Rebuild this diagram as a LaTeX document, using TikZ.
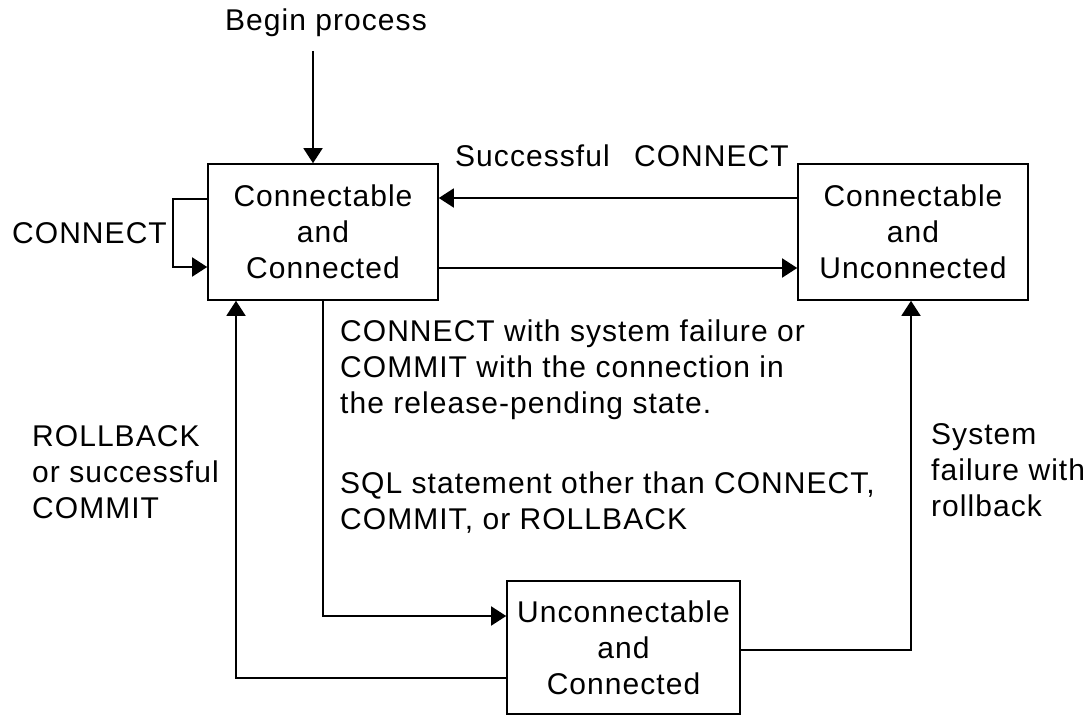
\documentclass[tikz,border=0pt]{standalone}
\usepackage{fontspec}
\setmainfont{Liberation Sans}[LetterSpace=3.5]
\usetikzlibrary{arrows.meta}
\begin{document}
\begin{tikzpicture}[x=1pt,y=-1pt,
  every node/.style={font=\fontsize{30}{36}\selectfont, inner sep=0pt},
  state/.style={draw, line width=1.6pt, align=center, minimum width=230pt, minimum height=136pt},
  label/.style={align=left, anchor=west},
  arr/.style={line width=1.6pt, -{Triangle[length=15pt,width=19pt]}},
  line/.style={line width=1.6pt}]
\useasboundingbox (0,0) rectangle (1092,717);

% states
\node[state] (A) at (323,232) {Connectable\\and\\Connected};
\node[state] (B) at (913,232) {Connectable\\and\\Unconnected};
\node[state, minimum width=233pt, minimum height=133pt] (C) at (623.5,647.5) {Unconnectable\\and\\Connected};

% start
\node (bp) at (326,23) {Begin process};
\coordinate (bpend) at (313,51);
\draw[arr] (bpend) -- (A.north -| bpend);

% transitions between the two top states
\draw[arr] (B.west |- 0,198) -- (A.east |- 0,198);
\draw[arr] (A.east |- 0,268) -- (B.west |- 0,268);
\node[label] (succ) at (455,156) {Successful\hspace{0.5em} CONNECT};

% self loop on A
\draw[arr] (A.west |- 0,199) -- (173,199) -- (173,267) -- (A.west |- 0,267);
\node[label] (cn) at (12,233) {CONNECT};

% A to C
\draw[arr] (A.south) |- (C.west |- 0,616);
\node[label] (t1) at (340,370) {CONNECT with system failure or\\COMMIT with the connection in\\the release-pending state.};
\node[label] (t2) at (340,503) {SQL statement other than CONNECT,\\COMMIT, or ROLLBACK};

% C back to A
\draw[arr] (C.west |- 0,678) -| (A.south -| 236,0);
\node[label] (rb) at (32,472) {ROLLBACK\\or successful\\COMMIT};

% C to B
\draw[arr] (C.east |- 0,650) -| (B.south -| 911,0);
\node[label] (sf) at (931,470) {System\\failure with\\rollback};
\end{tikzpicture}
\end{document}
